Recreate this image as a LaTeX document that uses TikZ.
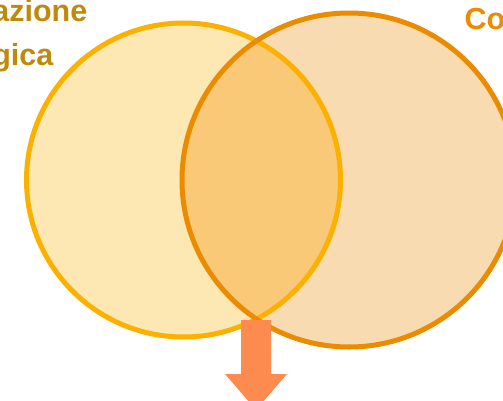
\documentclass[tikz,border=0pt]{standalone}
\usepackage{fontspec}
\setmainfont{Liberation Sans}
\definecolor{lfill}{HTML}{FDE7B3}
\definecolor{rfill}{HTML}{F9DBB1}
\definecolor{ifill}{HTML}{F9C978}
\definecolor{lline}{HTML}{FCB000}
\definecolor{rline}{HTML}{EB8C00}
\definecolor{ltext}{HTML}{BF8A0B}
\definecolor{arrowcol}{HTML}{FD8B4F}
\tikzset{
  venn/.style={circle, inner sep=0pt, outer sep=0pt, line width=5pt},
  lbl/.style={font=\bfseries\fontsize{30.5}{34}\selectfont, inner sep=0pt}
}
\begin{document}
\begin{tikzpicture}[x=1pt,y=-1pt]
\useasboundingbox (0,0) rectangle (503,401);
\clip (0,0) rectangle (503,401);
% fills
\node[venn, fill=lfill, minimum size=314pt] (L) at (183.5,180) {};
\node[venn, fill=rfill, minimum size=334pt] (R) at (349,180) {};
\begin{scope}
  \clip (L.center) circle (157pt);
  \fill[ifill] (R.center) circle (167pt);
\end{scope}
% outlines
\draw[lline, line width=5pt] (L.center) circle (157pt);
\draw[rline, line width=5pt] (R.center) circle (167pt);
% arrow
\coordinate (atop) at (256,320);
\fill[arrowcol] (atop) ++(-15,0) -- ++(30,0) -- ++(0,54) -- ++(16,0)
  -- (256,410) -- (225,374) -- ++(16,0) -- cycle;
% labels
\node[lbl, text=ltext, anchor=base east] (t1) at (87.5,21.7) {azione};
\node[lbl, text=ltext, anchor=base east] (t2) at (53.5,65.5) {gica};
\node[lbl, text=rline, anchor=base west] (t3) at (464.5,29.5) {Co};
\end{tikzpicture}
\end{document}
